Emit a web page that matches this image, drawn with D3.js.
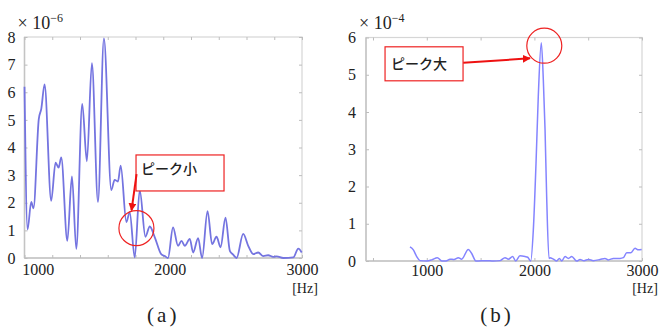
<!DOCTYPE html>
<html>
<head>
<meta charset="utf-8">
<script src="https://cdn.jsdelivr.net/npm/d3@7"></script>
<style>
body { margin: 0; background: #fff; }
text { font-family: "Liberation Serif", "Times New Roman", serif; fill: #222; }
</style>
</head>
<body>
<svg width="660" height="329"></svg>
<script>
// **** Data ****

// (a) spectrum, x 10^-6
var freqA = [900, 923, 951, 968, 1008, 1027, 1052, 1102, 1135, 1158, 1178, 1224, 1259, 1292,
    1337, 1372, 1410, 1456, 1501, 1557, 1582, 1607, 1628, 1671, 1696, 1734, 1772, 1815,
    1848, 1886, 1936, 1961, 1986, 2024, 2062, 2088, 2113, 2151, 2176, 2214, 2244, 2285,
    2320, 2353, 2384, 2421, 2454, 2479, 2505, 2555, 2593, 2631, 2669, 2707, 2744, 2782,
    2808, 2858, 2934, 2972, 2998];
var ampA = [6.2, 1.03, 2.03, 1.8, 5.03, 5.4, 6.28, 2.07, 3.45, 3.27, 3.64, 0.62, 2.95, 0.33,
    5.58, 3.5, 7.05, 2.03, 7.95, 2.46, 2.83, 2.77, 3.34, 1.3, 1.66, 0.02, 2.46, 0.77,
    1.14, 0.75, 0.13, 0.07, 0.0, 1.11, 0.44, 0.62, 0.44, 0.69, 0.2, 0.72, 0.0, 1.7,
    0.5, 0.77, 0.39, 1.46, 0.26, 0.12, 0.0, 0.87, 0.44, 0.14, 0.2, 0.07, 0.1, 0.04,
    0.06, 0.0, 0.02, 0.34, 0.2];

// (b) spectrum, x 10^-4
var freqB = [844, 875, 906, 937, 999, 1046, 1098, 1139, 1178, 1216, 1253, 1293, 1324, 1386,
    1417, 1457, 1557, 1618, 1680, 1727, 1758, 1798, 1826, 1866, 1913, 1938, 1966, 1990,
    2015, 2036, 2064, 2083, 2099, 2114, 2136, 2145, 2176, 2207, 2232, 2254, 2285, 2316,
    2347, 2393, 2424, 2461, 2502, 2548, 2610, 2656, 2687, 2734, 2796, 2827, 2858, 2895,
    2935, 2966, 2997];
var ampB = [0.38, 0.3, 0.12, 0.01, 0.0, 0.03, 0.09, 0.0, 0.0, 0.05, 0.04, 0.09, 0.05, 0.31,
    0.2, 0.0, 0.01, 0.0, 0.01, 0.09, 0.05, 0.12, 0.0, 0.14, 0.12, 0.1, 0.0, 0.83,
    2.62, 4.41, 5.86, 4.86, 3.52, 1.73, 0.07, 0.09, 0.05, 0.0, 0.07, 0.0, 0.12, 0.07,
    0.12, 0.0, 0.04, 0.01, 0.04, 0.01, 0.04, 0.07, 0.03, 0.07, 0.07, 0.09, 0.22, 0.22,
    0.34, 0.3, 0.31];

var xLabels = [1000, 2000, 3000];
var yTicksA = [0, 1, 2, 3, 4, 5, 6, 7, 8];
var yTicksB = [0, 1, 2, 3, 4, 5, 6];
var xMarksA = d3.range(11).map(function(i) { return 900 + 210 * i; });
var xMarksB = [500, 1000, 1500, 2000, 2500, 3000];

var svg = d3.select('svg');
var serif = '"Liberation Serif", "Times New Roman", serif';

svg.append('defs').append('marker')
    .attr('id', 'arrow')
    .attr('viewBox', '0 0 10 10')
    .attr('refX', 9).attr('refY', 5)
    .attr('markerWidth', 4).attr('markerHeight', 4)
    .attr('orient', 'auto')
    .append('path')
    .attr('d', 'M0,0 L10,5 L0,10 z')
    .attr('fill', '#ee1111');

function drawPanel(p) {
    var x = d3.scaleLinear().domain(p.xDomain).range([p.left, p.right]);
    var y = d3.scaleLinear().domain(p.yDomain).range([p.bottom, p.top]);
    var g = svg.append('g');

    // frame
    g.append('rect')
        .attr('x', p.left).attr('y', p.top)
        .attr('width', p.right - p.left).attr('height', p.bottom - p.top)
        .attr('fill', 'none').attr('stroke', '#d6d6d6').attr('stroke-width', 1.2);
    g.append('line')
        .attr('x1', p.left).attr('x2', p.left).attr('y1', p.top).attr('y2', p.bottom)
        .attr('stroke', '#c4c4c4').attr('stroke-width', 1.5);
    g.append('line')
        .attr('x1', p.left).attr('x2', p.right).attr('y1', p.bottom).attr('y2', p.bottom)
        .attr('stroke', '#c4c4c4').attr('stroke-width', 1.5);

    // inner tick marks on all four sides
    var marks = [
        [d3.axisTop(x).tickValues(p.xMarks), 'translate(0,' + p.bottom + ')'],
        [d3.axisBottom(x).tickValues(p.xMarks), 'translate(0,' + p.top + ')'],
        [d3.axisRight(y).tickValues(p.yTicks), 'translate(' + p.left + ',0)'],
        [d3.axisLeft(y).tickValues(p.yTicks), 'translate(' + p.right + ',0)']
    ];
    marks.forEach(function(m) {
        var a = g.append('g').attr('transform', m[1])
            .call(m[0].tickSize(3).tickFormat(''));
        a.select('.domain').remove();
        a.selectAll('line').attr('stroke', '#bdbdbd');
    });

    // tick labels
    var xa = g.append('g').attr('transform', 'translate(0,' + p.bottom + ')')
        .call(d3.axisBottom(x).tickValues(xLabels).tickSize(0).tickPadding(p.xPad)
            .tickFormat(d3.format('d')));
    xa.attr('font-family', serif).attr('font-size', 16);
    xa.select('.domain').remove();
    xa.selectAll('text').style('font-family', serif).attr('fill', '#111');

    var ya = g.append('g').attr('transform', 'translate(' + p.left + ',0)')
        .call(d3.axisLeft(y).tickValues(p.yTicks).tickSize(0).tickPadding(p.yPad)
            .tickFormat(d3.format('d')));
    ya.attr('font-family', serif).attr('font-size', 16);
    ya.select('.domain').remove();
    ya.selectAll('text').style('font-family', serif).attr('fill', '#111');

    // unit "[Hz]"
    g.append('text').attr('x', p.right + 3).attr('y', 293)
        .style('text-anchor', 'middle').style('font-size', '14px').text('[Hz]');

    // exponent
    var ex = g.append('text').attr('x', p.left - 7).attr('y', 29).style('font-size', '18px');
    ex.append('tspan').text('\u00d7 10');
    ex.append('tspan').attr('dy', -7).style('font-size', '12px').text(p.exponent);

    // panel caption
    g.append('text').attr('x', (p.left + p.right) / 2 + p.capShift).attr('y', 322)
        .style('text-anchor', 'middle').style('font-size', '21px')
        .style('letter-spacing', '3px').text(p.caption);

    // spectrum line
    var line = d3.line()
        .x(function(d) { return x(d[0]); })
        .y(function(d) { return y(d[1]); })
        .curve(d3.curveMonotoneX);
    g.append('path')
        .datum(d3.zip(p.freq, p.amp))
        .attr('d', line)
        .attr('fill', 'none')
        .attr('stroke', p.color)
        .attr('stroke-width', p.width);

    // annotation: circle, box, label, arrow
    var a = p.note;
    g.append('circle')
        .attr('cx', x(a.circle[0])).attr('cy', y(a.circle[1])).attr('r', 17.5)
        .attr('fill', 'none').attr('stroke', '#ee2222').attr('stroke-width', 1.2);
    g.append('rect')
        .attr('x', x(a.box[0])).attr('y', y(a.box[1]))
        .attr('width', a.boxW).attr('height', a.boxH)
        .attr('fill', '#fff').attr('stroke', '#ee2222').attr('stroke-width', 1.2);
    g.append('text')
        .attr('x', x(a.box[0]) + a.textDx).attr('y', y(a.box[1]) + a.textDy)
        .style('font-family', '"Noto Sans CJK JP", sans-serif')
        .style('font-size', '14px').style('font-weight', 500)
        .attr('fill', '#111').text(a.label);
    g.append('line')
        .attr('x1', x(a.from[0])).attr('y1', y(a.from[1]))
        .attr('x2', x(a.to[0])).attr('y2', y(a.to[1]))
        .attr('stroke', '#ee1111').attr('stroke-width', 2)
        .attr('marker-end', 'url(#arrow)');
}

drawPanel({
    xDomain: [900, 3000], yDomain: [0, 8],
    left: 24.5, right: 302, top: 37, bottom: 258,
    xMarks: xMarksA, yTicks: yTicksA, xPad: 6, yPad: 9,
    freq: freqA, amp: ampA, color: '#7474e0', width: 1.8,
    exponent: '\u22126', caption: '(a)', capShift: 0,
    note: {
        circle: [1747, 1.08], box: [1744, 3.73], boxW: 88, boxH: 36,
        textDx: 5, textDy: 19, label: 'ピーク小',
        from: [1748, 3.04], to: [1710, 1.72]
    }
});

drawPanel({
    xDomain: [435, 3000], yDomain: [0, 6],
    left: 366, right: 642, top: 37.5, bottom: 261,
    xMarks: xMarksB, yTicks: yTicksB, xPad: 4, yPad: 10,
    freq: freqB, amp: ampB, color: '#8484ff', width: 1.5,
    exponent: '\u22124', caption: '(b)', capShift: -7,
    note: {
        circle: [2092, 5.78], box: [612, 5.75], boxW: 78, boxH: 34,
        textDx: 6, textDy: 22, label: 'ピーク大',
        from: [1339, 5.32], to: [1959, 5.44]
    }
});
</script>
</body>
</html>
